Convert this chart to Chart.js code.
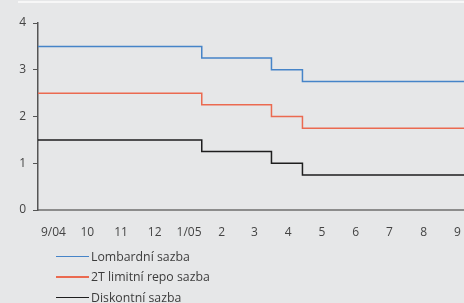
<!DOCTYPE html>
<html><head><meta charset="utf-8">
<script src="https://cdn.jsdelivr.net/npm/chart.js@4.4.0/dist/chart.umd.min.js"></script>
<style>
html,body{margin:0;padding:0;background:#e6e7e8;}
#wrap{position:relative;width:464px;height:303px;overflow:hidden;background:#e6e7e8;}
#topline{position:absolute;left:18px;right:0;top:1px;height:2px;background:#f7f7f7;}
canvas{position:absolute;left:0;top:0;}
#legend{position:absolute;left:56px;top:246px;font-family:'Open Sans',sans-serif;font-size:12.3px;color:#3c3c3c;}
.item{display:flex;align-items:center;height:20.5px;white-space:nowrap;}
.sw{width:33px;height:1.5px;margin-right:2px;}
</style></head>
<body>
<div id="wrap">
<div id="topline"></div>
<canvas id="c" width="464" height="303"></canvas>
<div id="legend"></div>
</div>
<script>
const seriesNames = ['Lombardní sazba', '2T limitní repo sazba', 'Diskontní sazba'];
const changeDates = ['2004-09-01', '2005-01-28', '2005-04-01', '2005-04-29', '2005-09-30'];
const lombardni = [3.50, 3.25, 3.00, 2.75, 2.75];
const repo2T = [2.50, 2.25, 2.00, 1.75, 1.75];
const diskontni = [1.50, 1.25, 1.00, 0.75, 0.75];
const monthLabels = ['9/04', '10', '11', '12', '1/05', '2', '3', '4', '5', '6', '7', '8', '9'];
const monthStarts = ['2004-09-01', '2004-10-01', '2004-11-01', '2004-12-01', '2005-01-01', '2005-02-01', '2005-03-01',
  '2005-04-01', '2005-05-01', '2005-06-01', '2005-07-01', '2005-08-01', '2005-09-01', '2005-10-01'];
const colors = ['#4684c8', '#eb6a50', '#1e1e1e'];

const origin = Date.parse('2004-09-01');
const day = d => (Date.parse(d) - origin) / 86400000;
const tickDays = monthLabels.map((_, i) => (day(monthStarts[i]) + day(monthStarts[i + 1])) / 2);
const pts = vals => changeDates.map((d, i) => ({x: day(d), y: vals[i]}));

const FONT = "'Open Sans', sans-serif";
const chart = new Chart(document.getElementById('c'), {
  type: 'line',
  data: {
    datasets: [lombardni, repo2T, diskontni].map((v, i) => ({
      label: seriesNames[i], data: pts(v), borderColor: colors[i], backgroundColor: colors[i],
      borderWidth: 1.5, pointRadius: 0, stepped: true, fill: false
    }))
  },
  options: {
    responsive: false, animation: false, devicePixelRatio: 1,
    layout: {padding: {top: 23, right: 0, left: 0, bottom: 0}},
    plugins: {legend: {display: false}, tooltip: {enabled: false}},
    scales: {
      x: {
        type: 'linear', min: 1, max: 386,
        afterFit(s) { s.height = 93; s.paddingRight = 0; s.paddingLeft = 0; },
        afterBuildTicks(s) { s.ticks = tickDays.map(v => ({value: v})); },
        ticks: {autoSkip: false, maxRotation: 0, color: '#444', font: {family: FONT, size: 12}, padding: 15,
          callback: (v, i) => monthLabels[i]},
        grid: {display: false, drawTicks: false},
        border: {display: true, color: '#8c8c8c', width: 2}
      },
      y: {
        min: 0, max: 4,
        afterFit(s) { s.width = 38; s.paddingTop = 0; s.paddingBottom = 0; },
        ticks: {stepSize: 1, color: '#444', font: {family: FONT, size: 12}, padding: 7},
        grid: {display: true, drawOnChartArea: false, drawTicks: true, tickLength: 5, color: '#555', lineWidth: 1},
        border: {display: true, color: '#555', width: 1.5}
      }
    }
  }
});

const leg = document.getElementById('legend');
chart.data.datasets.forEach(ds => {
  const it = document.createElement('div'); it.className = 'item';
  const sw = document.createElement('span'); sw.className = 'sw'; sw.style.background = ds.borderColor;
  const tx = document.createElement('span'); tx.textContent = ds.label;
  it.appendChild(sw); it.appendChild(tx); leg.appendChild(it);
});
</script>
</body></html>
